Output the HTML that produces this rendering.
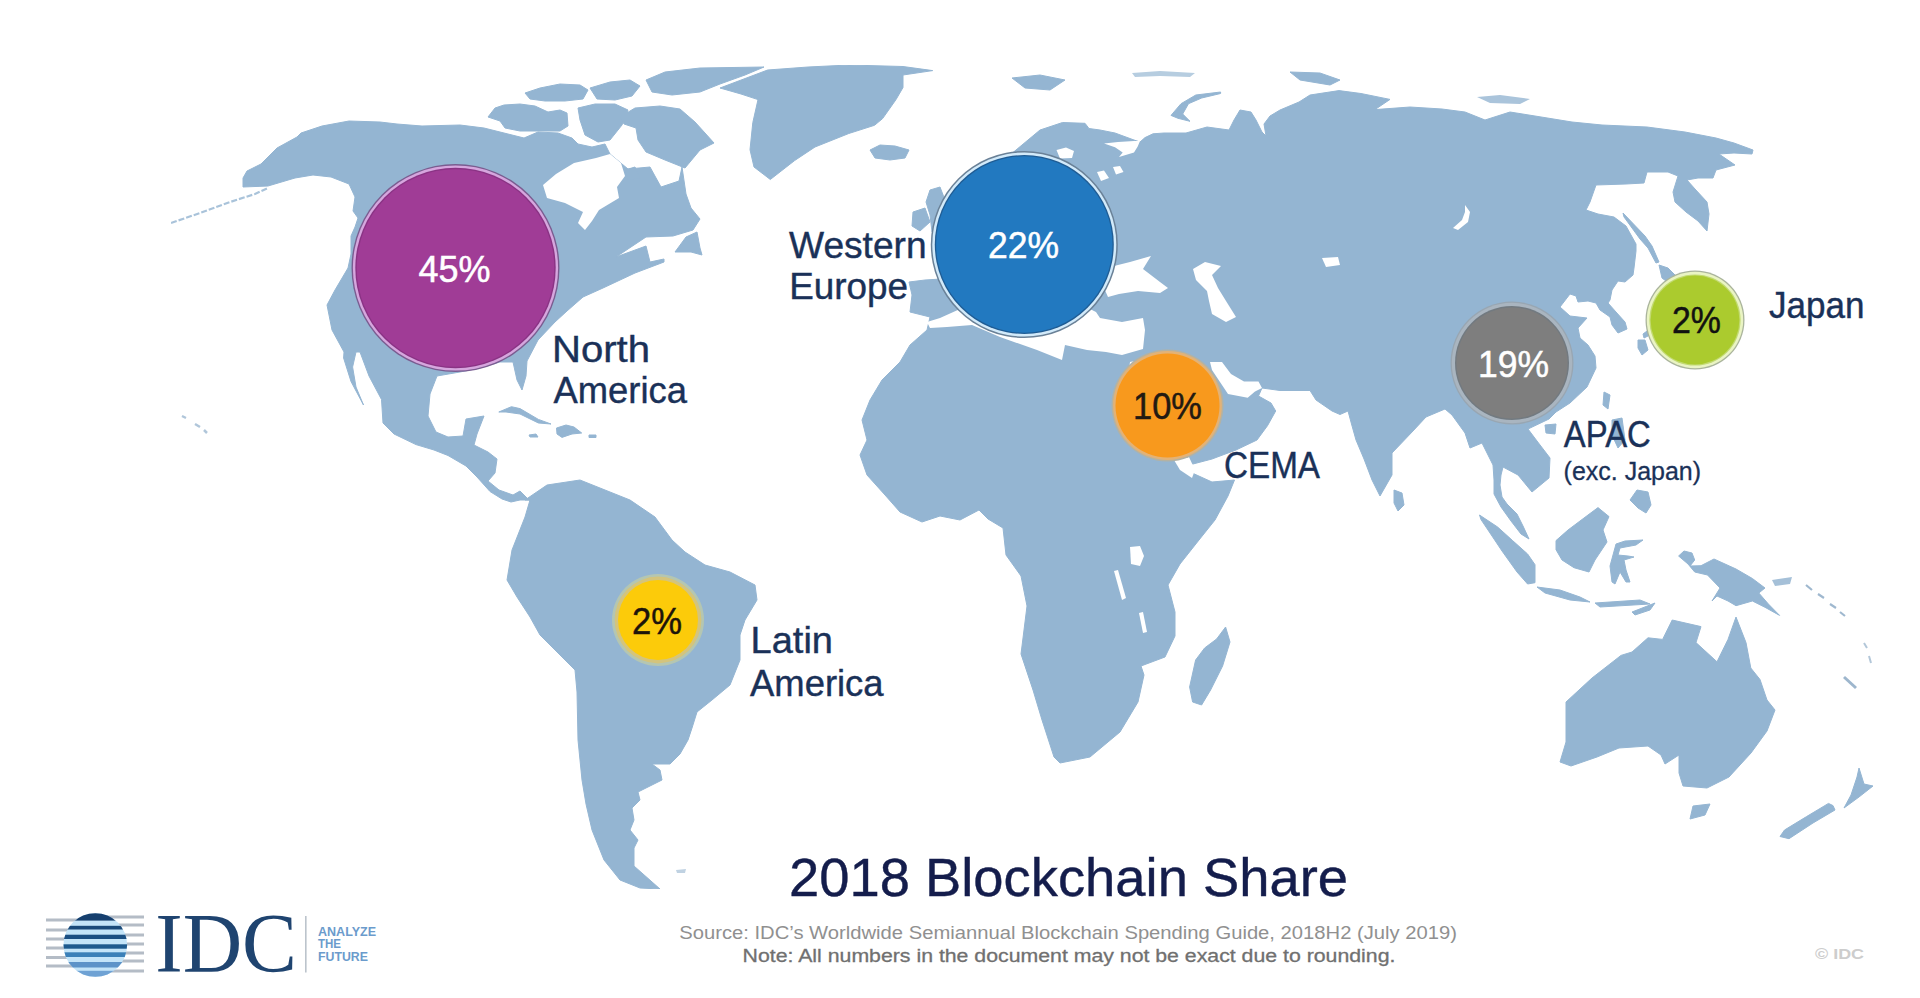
<!DOCTYPE html>
<html><head><meta charset="utf-8"><title>2018 Blockchain Share</title>
<style>html,body{margin:0;padding:0;background:#fff;width:1920px;height:998px;overflow:hidden}svg{display:block}</style>
</head><body>
<svg width="1920" height="998" viewBox="0 0 1920 998">
<rect width="1920" height="998" fill="#ffffff"/>
<filter id="soft" x="0" y="0" width="1" height="1"><feGaussianBlur stdDeviation="0.7"/></filter>
<g filter="url(#soft)">
<g fill="#94b5d2" stroke="#94b5d2" stroke-width="1" stroke-linejoin="round">
<path d="M243,187 L243,178 L247,171 L261,164 L272,153 L277,148 L297,137 L301,133 L322,126 L349,121 L380,122 L397,124 L422,126 L460,125 L484,128 L504,133 L524,138 L538,132 L558,133 L572,138 L578,144 L592,147 L605,144 L610,154 L628,169 L650,167 L661,187 L679,181 L682,167 L686,194 L691,208 L700,219 L693,230 L673,236 L646,237 L616,257 L646,246 L650,262 L664,259 L664,262 L635,273 L603,288 L583,297 L567,311 L555,322 L538,340 L527,361 L526,376 L522,390 L517,380 L513,362 L500,362 L480,368 L460,372 L437,376 L430,394 L428,416 L436,432 L448,437 L463,436 L466,419 L484,416 L477,434 L474,445 L488,452 L497,459 L495,473 L488,481 L499,490 L513,495 L520,491 L528,499 L530,500 L520,500 L511,502 L502,499 L490,491.5 L477,477 L466,466 L448,455.5 L434,450 L416,444.6 L394,434 L383,423 L381.5,399.5 L369,376 L360,352 L356,352 L352.6,367 L356,387 L363.5,405 L351,381.5 L343.6,358 L344,352 L332,330 L327,305 L335,290 L348,268 L351,254 L351,236 L355,227 L358,218 L353,211 L355,197 L349,184 L331,177 L313,175 L295,178 L268,186 Z"/>
<path d="M720,88 L741,94 L758,99.6 L752.8,122.6 L750,149.7 L754,167 L770.3,179.5 L794.7,160.5 L815,147 L848.8,133.5 L874.5,125.3 L882.6,118.6 L896,99.6 L903,87.5 L903,75 L932.7,70.6 L903,66.5 L849,65 L808,67 L767.6,70 Z"/>
<path d="M870,150 L880,145 L895,146 L909,150 L905,158 L890,160 L875,158 Z"/>
<path d="M488,117 L495,108 L504,105 L520,104 L535,106 L548,112 L560,110 L567,113 L568,126 L560,131 L540,131 L520,131 L505,128 L500,121 Z"/>
<path d="M525,93 L540,88 L560,84 L580,85 L588,90 L583,99 L565,101 L545,101 L530,99 Z"/>
<path d="M590,88 L610,82 L630,80 L640,86 L632,96 L615,100 L597,99 Z"/>
<path d="M578,108 L595,104 L615,104 L628,110 L622,125 L610,140 L598,142 L585,135 L580,120 Z"/>
<path d="M646,80 L665,72 L700,68 L764,67 L745,75 L720,84 L700,92 L672,95 L652,92 Z"/>
<path d="M620,117 L635,108 L660,106 L680,109 L695,122 L705,133 L714,143 L700,150 L690,162 L685,168 L665,160 L646,152 L638,140 L636,128 L624,124 Z"/>
<path d="M625,170 L635,167 L640,178 L628,180 Z"/>
<path d="M675,252 L686,237 L697,232 L700,248 L702,255 L691,252 Z"/>
<path d="M498.8,412 L511.4,406.7 L520,408.6 L538.4,419.4 L551,424 L538.4,423 L520,414 L506,412 Z"/>
<path d="M529,435 L536,434 L538,437 L530,437 Z"/>
<path d="M589,435 L596,435 L596,437.5 L589,437.5 Z"/>
<path d="M556.5,428 L566,425 L574,427 L581.7,433 L572,434 L562,437.4 L557,434 Z"/>
<path d="M525,500 L547,485 L580,480 L605,490 L630,500 L655,517 L672,540 L685,552 L705,565 L730,572 L755,585 L757,600 L745,620 L740,635 L740,660 L730,685 L712,700 L697,712 L692,728 L688,740 L680,754 L670,764 L652,764 L660,770 L662,780 L650,786 L638,792 L640,800 L632,808 L634,820 L630,830 L638,840 L634,848 L634,866 L660,889 L640,888 L620,880 L604,860 L592,830 L586,804 L582,780 L578,740 L577,692 L575,670 L555,650 L540,635 L530,617 L517,597 L507,580 L510,562 L512,550 L525,517 L530,500 Z"/>
<path d="M910,312 L912,295 L909,282 L925,280 L941,279 L960,230 L990,175 L1010,155 L1022,145 L1040,130 L1062.5,122.5 L1085,123.3 L1089,128.5 L1100,130 L1115,133 L1134,140 L1140,142 L1145,137.6 L1153,133.8 L1164,133 L1186,133 L1207,127 L1229,130 L1234,120 L1240,110 L1251,112 L1256,120 L1262,132 L1266,136 L1264,124 L1270,116 L1280,110 L1299,102 L1310,95 L1339,90.6 L1361,93.5 L1390,99.4 L1375,109.6 L1410,107 L1442,109 L1465,112 L1485,120 L1510,112 L1535,116 L1572,122 L1602,125 L1647,127 L1685,132 L1716,138 L1734,143 L1753,150 L1752,154 L1734,153 L1719,154 L1735,165 L1716,170 L1713,178 L1698,178 L1687,180 L1695,189 L1707,202 L1709,214 L1707,231 L1698,221 L1686,212 L1675,202 L1673,192 L1678,176 L1668,172 L1647,172 L1644,183 L1626,184 L1596,185 L1590,202 L1586,210 L1598,214 L1614,217 L1626,226 L1636,244 L1636,251 L1634,268 L1633,275 L1625,282 L1618,281 L1612,290 L1610,300 L1608,303 L1616,312 L1625,322 L1627,329 L1618,333 L1612,325 L1610,317 L1600,310 L1596,303 L1588,301 L1578,302 L1576,296 L1570,294 L1560,307 L1570,316 L1587,318 L1578,328 L1580,338 L1588,345 L1595,356 L1596,368 L1587,387 L1570,403 L1556,412 L1549,419 L1528,429 L1537,441 L1550,458 L1549,478 L1532,492 L1518,475 L1503,467 L1501,475 L1500,485 L1502,497 L1507,504 L1517,514 L1523,526 L1529,539 L1521,534 L1511,521 L1501,507 L1494,494 L1494,480 L1493,465 L1482,443 L1470,448 L1465,433 L1452,415 L1445,409 L1426,417 L1413,431 L1392,453 L1392,475 L1380,496 L1372,480 L1364,459 L1356,440 L1351.5,424 L1348,411 L1340,414.5 L1332,411 L1316,400 L1310,390.5 L1280,390.5 L1262,388 L1258.5,396 L1271,403 L1275.7,411 L1267.5,425.7 L1257,440 L1236,450 L1212,459 L1193,464 L1186,463 L1190,472 L1212,482 L1234.5,480 L1228,496 L1215,520 L1199,540 L1180,564 L1168,585 L1175,612 L1175,636 L1165,657 L1141,666 L1144,675 L1138,702 L1120,732 L1090,757 L1060,763 L1054,757 L1042,720 L1033,690 L1021,654 L1024,630 L1027,606 L1021,576 L1006,555 L1003,528 L988,519 L979,510 L960,520 L940,516 L922,522 L900,512 L885,495 L867,475 L860,455 L867,440 L862,420 L870,400 L882,380 L900,362 L910,345 L927,330 L930,317 Z"/>
<path d="M930,190 L940,187 L945,200 L944,230 L932,232 L930,215 L926,202 Z"/>
<path d="M913,212 L925,208 L930,222 L920,231 L912,226 Z"/>
<path d="M1012,78 L1040,75 L1065,80 L1050,90 L1025,88 Z"/>
<path d="M1220.6,92 L1195.8,95 L1181,103.7 L1171,115.4 L1178,118.3 L1190,121.3 L1182.7,114 L1188.5,103.7 L1201.7,98 L1220.6,93.5 Z"/>
<path d="M1290,72 L1320,73 L1340,80 L1330,85 L1300,80 Z"/>
<path d="M1623,213 L1645,236 L1652,246 L1659,262 L1656,263 L1648,248 L1640,239 L1624,217 Z"/>
<path d="M1659,265 L1668,268 L1676,276 L1670,284 L1662,278 Z"/>
<path d="M1672,285 L1676,300 L1668,318 L1656,332 L1644,338 L1643,334 L1655,325 L1664,306 Z"/>
<path d="M1638,340 L1645,340 L1648,350 L1642,355 L1638,348 Z"/>
<path d="M1604,392 L1610,395 L1608,409 L1603,405 Z"/>
<path d="M1545,425 L1556,424 L1555,434 L1546,433 Z"/>
<path d="M1394,490 L1402,493 L1404,505 L1398,511 L1394,503 Z"/>
<path d="M1612,420 L1622,418 L1625,440 L1618,448 L1612,435 Z"/>
<path d="M1637,490 L1648,492 L1651,505 L1646,513 L1638,508 L1630,500 Z"/>
<path d="M1479.5,515 L1497.6,527 L1512.6,540.6 L1527.6,554 L1535,564.7 L1535,582.7 L1527.6,584 L1517,572 L1502,551 L1490,533 L1481,519.6 Z"/>
<path d="M1537,587 L1560,590 L1580,597 L1590,602 L1570,600 L1545,593 Z"/>
<path d="M1556,540.6 L1568,530 L1588,515 L1598,507.6 L1609,516.6 L1603,530 L1607,542 L1595,560 L1589,572 L1574,567.7 L1562,560 L1556,549.7 Z"/>
<path d="M1616,544 L1625,541 L1643,540 L1636,545 L1620,548 L1618,555 L1628,556 L1634,557 L1624,560 L1626,570 L1630,582 L1626,582 L1620,572 L1615,584 L1612,582 L1610,566 L1613,555 Z"/>
<path d="M1678.6,556 L1684,551 L1692,553 L1694.7,560 L1690,566 L1701,565.7 L1714,559 L1736,569 L1752.4,578.5 L1765,588 L1758.8,593 L1768.4,604 L1779.6,615.4 L1765,607.3 L1752.4,601 L1736,605.7 L1728,601 L1717,596 L1712,601 L1720,588 L1707.5,575 L1694.7,572 L1688,564 Z"/>
<path d="M1595,603 L1640,600 L1650,604 L1600,607 Z"/>
<path d="M1632,612 L1655,603 L1650,610 L1635,615 Z"/>
<path d="M1579,690 L1592,678 L1621,655.4 L1632,652 L1648,637.8 L1662.6,639.4 L1672.2,620 L1701,626.6 L1696,642.6 L1717,661.8 L1728,639.4 L1736,617 L1746,642.6 L1750.8,668 L1760,679.5 L1767,700 L1775,710 L1767,731 L1751,753 L1729,777 L1707,788 L1683,786 L1679,773 L1679,755 L1665,764 L1661,755 L1648,746 L1619,748 L1597,757 L1571,766 L1560,762 L1566,742 L1566,724 L1566,702 Z"/>
<path d="M1690,819 L1693,806 L1710,804 L1705,815 Z"/>
<path d="M1859,768 L1864,784 L1873,786 L1859,797 L1844,808 L1851,795 L1857,777 Z"/>
<path d="M1833,805.6 L1835,810 L1813,823 L1789,838.7 L1780,836.5 L1784.5,830 L1806.5,816.6 L1828.5,803.4 Z"/>
<path d="M1225.6,627 L1230,642 L1222.6,666 L1210.6,690 L1201.6,705 L1192.6,702 L1189.6,687 L1195.6,660 L1204.6,648 L1216.6,639 Z"/>
</g>
<g fill="#ffffff">
<path d="M543,185 L556,174 L574,163 L596,158 L610,154 L621,163 L625,176 L617,187 L619,198 L599,210 L592,221 L585,230 L578,223 L583,212 L565,203 L547,198 Z"/>
<path d="M927,322 L940,318 L980,300 L1030,290 L1080,300 L1090,309 L1096,312 L1100,318 L1122,322 L1143,318 L1145,330 L1143,349 L1122,355 L1106,352 L1087,350 L1065,345 L1062,360 L1037,350 L1000,337 L972,325 L947,327 L930,328 Z"/>
<path d="M1108,297 L1104,288 L1114,266 L1130,262 L1151,256 L1143,269 L1160,282 L1168,288 L1160,293 L1138,291 L1119,294 Z"/>
<path d="M1193,269 L1205,262 L1221,266 L1212,275 L1218,288 L1226,301 L1236,317 L1226,322 L1212,314 L1209,301 L1207,291 L1196,280 Z"/>
<path d="M1130,362 L1140,360 L1165,405 L1195,470 L1192,478 L1180,470 L1150,420 L1128,375 Z"/>
<path d="M1210,362 L1222,362 L1231,374 L1244,381.5 L1258.5,381.5 L1262,388 L1255,391.4 L1247.7,397.7 L1228,394 L1212,370 Z"/>
<path d="M1104,143.6 L1115,147.3 L1122.7,152.6 L1119,157 L1134,152.6 L1137.7,146.6 L1140,141 L1134,141 L1118,142 Z"/>
<path d="M1056.5,150 L1066,147.5 L1074,151 L1072,158 L1060,158.6 Z"/>
<path d="M1097,172 L1104,170.6 L1109,178 L1101,181 Z"/>
<path d="M1113,167 L1120,166 L1123.5,172 L1116,174.4 Z"/>
<path d="M1130,547 L1140,546 L1144,556 L1140,566 L1131,564 Z"/>
<path d="M1114,571 L1118,570 L1126,598 L1122,600 Z"/>
<path d="M1139,613 L1143,612 L1147,632 L1143,633 Z"/>
<path d="M1465,205 L1470,212 L1468,222 L1458,230 L1453,228 L1462,220 L1465,212 Z"/>
<path d="M1322,258 L1338,257 L1340,265 L1326,267 Z"/>
</g>
<polyline points="171,223 200,213 230,202 255,194 268,188" fill="none" stroke="#a9c3da" stroke-width="2.2" stroke-dasharray="6 2"/>
<path d="M1132,73 L1160,71 L1195,73 L1190,77 L1160,76 L1135,77 Z" fill="#b6cde0"/>
<path d="M1477,97 L1500,95 L1530,99 L1520,104 L1490,103 Z" fill="#aac4db"/>
<path d="M182,416 L186,418 M195,424 L200,427 M204,430 L207,433" stroke="#b0c6da" stroke-width="2.5"/>
<path d="M1772,580 L1792,577 L1790,584 L1775,586 Z" fill="#a5c0d8"/>
<path d="M676,870 L686,869 L685,873 L677,873 Z" fill="#c0d2e2"/>
<path d="M1806,585 L1812,590 M1818,594 L1824,598 M1830,604 L1836,608 M1840,612 L1845,616" stroke="#9fb8cf" stroke-width="2.2"/>
<path d="M1864,643 L1867,648 M1869,656 L1871,663" stroke="#b3c7d9" stroke-width="2"/>
<path d="M1844,677 L1856,688" stroke="#9db6cd" stroke-width="3"/>
</g>
<circle cx="455.5" cy="268" r="104" fill="#7a5c90"/><circle cx="455.5" cy="268" r="102.6" fill="#d6a6de"/><circle cx="455.5" cy="268" r="100.2" fill="#8a3384"/><circle cx="455.5" cy="268" r="98.8" fill="#a03c96"/>
<circle cx="1024.3" cy="244.5" r="93.5" fill="#6a8197"/><circle cx="1024.3" cy="244.5" r="92" fill="#d2eafa"/><circle cx="1024.3" cy="244.5" r="89.5" fill="#1f5c94"/><circle cx="1024.3" cy="244.5" r="88.2" fill="#2279c0"/>
<circle cx="1167.5" cy="405.5" r="56" fill="#b3b2a4"/><circle cx="1167.5" cy="405.5" r="54.4" fill="#e3b276"/><circle cx="1167.5" cy="405.5" r="52" fill="#f8991d"/>
<circle cx="1512" cy="363" r="61.5" fill="#98a6b2"/><circle cx="1512" cy="363" r="60.2" fill="#a9b5c0"/><circle cx="1512" cy="363" r="57" fill="#727a80"/><circle cx="1512" cy="363" r="55.6" fill="#7e7e7e"/>
<circle cx="1695" cy="320" r="49.5" fill="#aab49c"/><circle cx="1695" cy="320" r="48.2" fill="#eaf4c4"/><circle cx="1695" cy="320" r="45.6" fill="#c2da70"/><circle cx="1695" cy="320" r="44.4" fill="#abcb2e"/>
<circle cx="658" cy="620" r="46" fill="#b4c6b2"/><circle cx="658" cy="620" r="43.4" fill="#d4c47c"/><circle cx="658" cy="620" r="40" fill="#fccb0a"/>
<text x="418.5" y="282" font-size="36" fill="#ffffff" text-anchor="start" font-family="&quot;Liberation Sans&quot;, sans-serif" font-weight="normal" stroke="#ffffff" stroke-width="0.5" textLength="72" lengthAdjust="spacingAndGlyphs">45%</text>
<text x="988" y="258" font-size="36" fill="#ffffff" text-anchor="start" font-family="&quot;Liberation Sans&quot;, sans-serif" font-weight="normal" stroke="#ffffff" stroke-width="0.5" textLength="71" lengthAdjust="spacingAndGlyphs">22%</text>
<text x="1133" y="419" font-size="36" fill="#231a12" text-anchor="start" font-family="&quot;Liberation Sans&quot;, sans-serif" font-weight="normal" stroke="#231a12" stroke-width="0.5" textLength="69" lengthAdjust="spacingAndGlyphs">10%</text>
<text x="1478" y="377" font-size="36" fill="#ffffff" text-anchor="start" font-family="&quot;Liberation Sans&quot;, sans-serif" font-weight="normal" stroke="#ffffff" stroke-width="0.5" textLength="71" lengthAdjust="spacingAndGlyphs">19%</text>
<text x="1672" y="332.5" font-size="36" fill="#111111" text-anchor="start" font-family="&quot;Liberation Sans&quot;, sans-serif" font-weight="normal" stroke="#111111" stroke-width="0.5" textLength="49" lengthAdjust="spacingAndGlyphs">2%</text>
<text x="632" y="633.5" font-size="36" fill="#1d140a" text-anchor="start" font-family="&quot;Liberation Sans&quot;, sans-serif" font-weight="normal" stroke="#1d140a" stroke-width="0.5" textLength="50" lengthAdjust="spacingAndGlyphs">2%</text>
<text x="552" y="362" font-size="36" fill="#1a3158" text-anchor="start" font-family="&quot;Liberation Sans&quot;, sans-serif" font-weight="normal" stroke="#1a3158" stroke-width="0.4" textLength="98" lengthAdjust="spacingAndGlyphs">North</text>
<text x="553.5" y="403" font-size="36" fill="#1a3158" text-anchor="start" font-family="&quot;Liberation Sans&quot;, sans-serif" font-weight="normal" stroke="#1a3158" stroke-width="0.4" textLength="133.5" lengthAdjust="spacingAndGlyphs">America</text>
<text x="789" y="258" font-size="36" fill="#1a3158" text-anchor="start" font-family="&quot;Liberation Sans&quot;, sans-serif" font-weight="normal" stroke="#1a3158" stroke-width="0.4" textLength="137.6" lengthAdjust="spacingAndGlyphs">Western</text>
<text x="789.2" y="299.3" font-size="36" fill="#1a3158" text-anchor="start" font-family="&quot;Liberation Sans&quot;, sans-serif" font-weight="normal" stroke="#1a3158" stroke-width="0.4" textLength="118.8" lengthAdjust="spacingAndGlyphs">Europe</text>
<text x="1224" y="477.7" font-size="36" fill="#1a3158" text-anchor="start" font-family="&quot;Liberation Sans&quot;, sans-serif" font-weight="normal" stroke="#1a3158" stroke-width="0.4" textLength="96" lengthAdjust="spacingAndGlyphs">CEMA</text>
<text x="1563.8" y="447" font-size="36" fill="#1a3158" text-anchor="start" font-family="&quot;Liberation Sans&quot;, sans-serif" font-weight="normal" stroke="#1a3158" stroke-width="0.4" textLength="87" lengthAdjust="spacingAndGlyphs">APAC</text>
<text x="1563.6" y="480.3" font-size="25" fill="#1a3158" text-anchor="start" font-family="&quot;Liberation Sans&quot;, sans-serif" font-weight="normal" stroke="#1a3158" stroke-width="0.3" textLength="137.4" lengthAdjust="spacingAndGlyphs">(exc. Japan)</text>
<text x="1769" y="318" font-size="36" fill="#1a3158" text-anchor="start" font-family="&quot;Liberation Sans&quot;, sans-serif" font-weight="normal" stroke="#1a3158" stroke-width="0.4" textLength="95.5" lengthAdjust="spacingAndGlyphs">Japan</text>
<text x="750.6" y="652.6" font-size="36" fill="#1a3158" text-anchor="start" font-family="&quot;Liberation Sans&quot;, sans-serif" font-weight="normal" stroke="#1a3158" stroke-width="0.4" textLength="82.4" lengthAdjust="spacingAndGlyphs">Latin</text>
<text x="750" y="696" font-size="36" fill="#1a3158" text-anchor="start" font-family="&quot;Liberation Sans&quot;, sans-serif" font-weight="normal" stroke="#1a3158" stroke-width="0.4" textLength="133.6" lengthAdjust="spacingAndGlyphs">America</text>
<text x="789" y="896" font-size="53.5" fill="#141d4c" text-anchor="start" font-family="&quot;Liberation Sans&quot;, sans-serif" font-weight="normal" stroke="#141d4c" stroke-width="0.4" textLength="559" lengthAdjust="spacingAndGlyphs">2018 Blockchain Share</text>
<text x="679.2" y="938.6" font-size="18.7" fill="#909090" text-anchor="start" font-family="&quot;Liberation Sans&quot;, sans-serif" font-weight="normal" textLength="777.8" lengthAdjust="spacingAndGlyphs">Source: IDC&#8217;s Worldwide Semiannual Blockchain Spending Guide, 2018H2 (July 2019)</text>
<text x="742.6" y="962" font-size="18.7" fill="#707070" text-anchor="start" font-family="&quot;Liberation Sans&quot;, sans-serif" font-weight="normal" stroke="#707070" stroke-width="0.3" textLength="652.8" lengthAdjust="spacingAndGlyphs">Note: All numbers in the document may not be exact due to rounding.</text>
<text x="1815" y="959" font-size="15" fill="#cdcdcd" text-anchor="start" font-family="&quot;Liberation Sans&quot;, sans-serif" font-weight="bold" textLength="49" lengthAdjust="spacingAndGlyphs">&#169; IDC</text>
<rect x="46" y="918.5" width="40" height="3" fill="#b4bcc6"/>
<rect x="46" y="928.5" width="40" height="3" fill="#b4bcc6"/>
<rect x="46" y="937.5" width="40" height="3" fill="#b4bcc6"/>
<rect x="46" y="946.5" width="40" height="3" fill="#b4bcc6"/>
<rect x="46" y="956.0" width="40" height="3" fill="#b4bcc6"/>
<rect x="46" y="964.5" width="40" height="3" fill="#b4bcc6"/>
<rect x="104" y="915.5" width="40" height="3" fill="#b4bcc6"/>
<rect x="104" y="923.5" width="40" height="3" fill="#b4bcc6"/>
<rect x="104" y="933.5" width="40" height="3" fill="#b4bcc6"/>
<rect x="104" y="942.5" width="40" height="3" fill="#b4bcc6"/>
<rect x="104" y="951.5" width="40" height="3" fill="#b4bcc6"/>
<rect x="104" y="959.5" width="40" height="3" fill="#b4bcc6"/>
<rect x="104" y="969.5" width="40" height="3" fill="#b4bcc6"/>
<clipPath id="globe"><circle cx="95.3" cy="945" r="31.8"/></clipPath>
<g clip-path="url(#globe)"><rect x="60" y="910" width="72" height="72" fill="#c4e4f8"/><rect x="60" y="910" width="72" height="10.6" fill="#163f6e"/><rect x="60" y="925.8" width="72" height="3.7" fill="#1a4a7a"/><rect x="60" y="934.7" width="72" height="4.3" fill="#1b4f82"/><rect x="60" y="944.3" width="72" height="4.4" fill="#1f5a8e"/><rect x="60" y="952.3" width="72" height="4.7" fill="#3b80b8"/><rect x="60" y="962" width="72" height="5.5" fill="#5d93c8"/><rect x="60" y="970.8" width="72" height="11.2" fill="#6fa2d4"/></g>
<text x="155.25" y="971.9" font-size="85" fill="#1f4470" text-anchor="start" font-family="&quot;Liberation Serif&quot;, serif" font-weight="normal" textLength="141.75" lengthAdjust="spacingAndGlyphs">IDC</text>
<rect x="305" y="916" width="1.6" height="56.5" fill="#bcc4cc"/>
<text x="318" y="936" font-size="13" fill="#6b9bcc" text-anchor="start" font-family="&quot;Liberation Sans&quot;, sans-serif" font-weight="bold" textLength="58" lengthAdjust="spacingAndGlyphs">ANALYZE</text>
<text x="318" y="948" font-size="13" fill="#6b9bcc" text-anchor="start" font-family="&quot;Liberation Sans&quot;, sans-serif" font-weight="bold" textLength="23" lengthAdjust="spacingAndGlyphs">THE</text>
<text x="318" y="961" font-size="13" fill="#6b9bcc" text-anchor="start" font-family="&quot;Liberation Sans&quot;, sans-serif" font-weight="bold" textLength="50" lengthAdjust="spacingAndGlyphs">FUTURE</text>
</svg>
</body></html>
